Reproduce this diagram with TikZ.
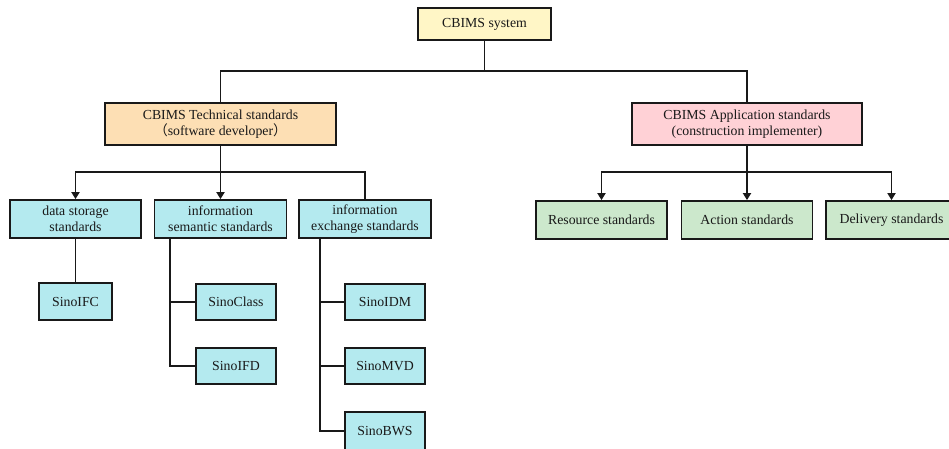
\documentclass[tikz,border=0pt]{standalone}
\usepackage{fontspec}
\setmainfont{Liberation Serif}
\newfontfamily\cjk{Noto Sans CJK SC}
\usetikzlibrary{arrows.meta}
\definecolor{sysfill}{HTML}{FFF6C6}
\definecolor{techfill}{HTML}{FDDFB4}
\definecolor{appfill}{HTML}{FFD1D6}
\definecolor{cyanfill}{HTML}{B4EAEF}
\definecolor{greenfill}{HTML}{CCE8CC}
\tikzset{
  box/.style={draw=black!90, line width=1.8pt, align=center, inner sep=0pt,
    font=\fontsize{13.8}{16}\selectfont, text=black!90},
  link/.style={draw=black!90, line width=1.8pt},
  arr/.style={link, -{Triangle[width=8pt,length=7pt]}},
}
\begin{document}
\begin{tikzpicture}[x=1pt,y=-1pt]
  \useasboundingbox (0,0) rectangle (949,448);
  \clip (0,0) rectangle (949,448);

  % top level
  \node[box, fill=sysfill, minimum width=133pt, minimum height=32pt] (sys) at (484.5,24) {CBIMS system};

  % second level
  \node[box, fill=techfill, minimum width=231pt, minimum height=42pt] (tech) at (220.5,124)
    {CBIMS Technical standards\\{\cjk（}software developer{\cjk）}};
  \node[box, fill=appfill, minimum width=230pt, minimum height=42pt] (app) at (747,124)
    {CBIMS Application standards\\(construction implementer)};

  % technical branch
  \node[box, fill=cyanfill, minimum width=131pt, minimum height=38pt] (ds) at (75.5,219)
    {data storage\\standards};
  \node[box, fill=cyanfill, minimum width=132pt, minimum height=38pt] (sem) at (220.5,219)
    {information\\semantic standards};
  \node[box, fill=cyanfill, minimum width=132pt, minimum height=38pt] (exc) at (365,219)
    {information\\exchange standards};

  \node[box, fill=cyanfill, minimum width=73pt, minimum height=37pt] (ifc) at (75.5,301.5) {SinoIFC};
  \node[box, fill=cyanfill, minimum width=80pt, minimum height=36pt] (cls) at (236,302) {SinoClass};
  \node[box, fill=cyanfill, minimum width=80pt, minimum height=36pt] (ifd) at (236,366) {SinoIFD};
  \node[box, fill=cyanfill, minimum width=80pt, minimum height=36pt] (idm) at (385,302) {SinoIDM};
  \node[box, fill=cyanfill, minimum width=80pt, minimum height=36pt] (mvd) at (385,366) {SinoMVD};
  \node[box, fill=cyanfill, minimum width=80pt, minimum height=38pt] (bws) at (385,431) {SinoBWS};

  % application branch
  \node[box, fill=greenfill, minimum width=131pt, minimum height=38pt] (res) at (601.5,220) {Resource standards};
  \node[box, fill=greenfill, minimum width=131pt, minimum height=38pt] (act) at (747,220) {Action standards};
  \node[box, fill=greenfill, minimum width=131pt, minimum height=38pt] (del) at (891.5,220) {Delivery standards};

  % connectors: top level
  \coordinate (topbus) at (484.5,71);
  \draw[link] (sys.south) -- (topbus);
  \draw[link] (topbus) -| (tech.north);
  \draw[link] (topbus) -| (app.north);

  % connectors: technical branch
  \coordinate (techbus) at (220.5,172);
  \draw[arr] (tech.south) -- (sem.north);
  \draw[arr] (techbus) -| (ds.north);
  \draw[link] (techbus) -| (exc.north);
  \draw[link] (ds.south) -- (ifc.north);

  \coordinate (semtrunk) at (170,238);
  \draw[link] (semtrunk) |- (ifd.west);
  \draw[link] (cls.west) -- (cls.west -| semtrunk);

  \coordinate (exctrunk) at (320,238);
  \draw[link] (exctrunk) |- (bws.west);
  \draw[link] (idm.west) -- (idm.west -| exctrunk);
  \draw[link] (mvd.west) -- (mvd.west -| exctrunk);

  % connectors: application branch
  \coordinate (appbus) at (747,172);
  \draw[arr] (app.south) -- (act.north);
  \draw[arr] (appbus) -| (res.north);
  \draw[arr] (appbus) -| (del.north);
\end{tikzpicture}
\end{document}
